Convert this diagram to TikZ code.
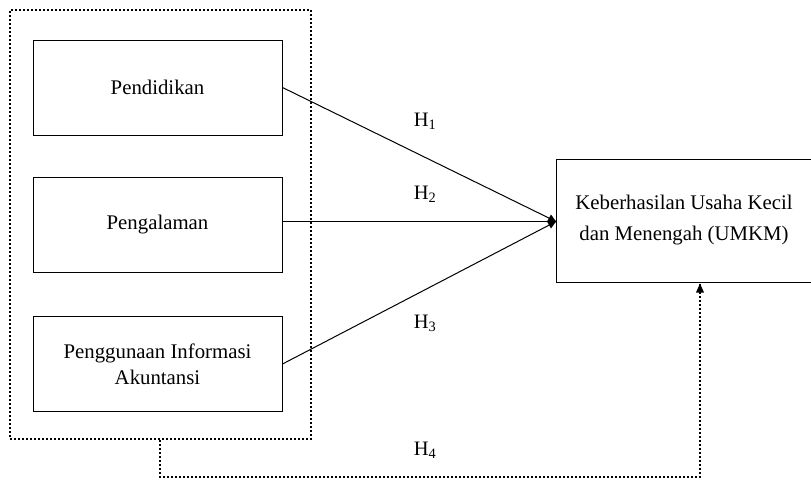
\documentclass[tikz,border=0pt]{standalone}
\usepackage{fontspec}
\setmainfont{Liberation Serif}
\usetikzlibrary{arrows.meta}
\begin{document}
\begin{tikzpicture}[x=1pt,y=-1pt,
  varbox/.style={draw, line width=1pt, minimum width=249pt, minimum height=95pt, inner sep=0pt, align=center, font=\fontsize{20.8}{26}\selectfont},
  lab/.style={font=\fontsize{20.5}{24}\selectfont, inner sep=0pt},
  dotline/.style={line width=2.6pt, dash pattern=on 2pt off 2pt},
  conn/.style={line width=1pt}]
\useasboundingbox (0,0) rectangle (811,480);
\node[varbox] (pend) at (157.5,87.5) {Pendidikan};
\node[varbox] (peng) at (157.5,225) {Pengalaman};
\node[varbox] (pia) at (157.5,364) {Penggunaan Informasi\\Akuntansi};
\node[draw, line width=1pt, minimum width=256pt, minimum height=123pt, inner sep=0pt, align=center, font=\fontsize{20.8}{31}\selectfont] (umkm) at (684,220.5) {Keberhasilan Usaha Kecil\\dan Menengah (UMKM)};
\coordinate (tip) at (556,221.5);
\node[draw, dotline, minimum width=301pt, minimum height=429pt, inner sep=0pt] (grp) at (160.5,224.5) {};
\draw[conn] (pend.east) -- (tip);
\draw[conn] (tip -| peng.east) -- (tip);
\draw[conn] (pia.east) -- (tip);
\fill (tip) -- ++(-5,-7) -- ++(-4,7) -- ++(4,7) -- cycle;
\coordinate (d1) at (160,477);
\coordinate (d2) at (700,477);
\draw[dotline] (grp.south -| d1) -- (d1) -- (d2) -- (umkm.south -| d2);
\fill (umkm.south -| d2) ++(0,1) -- ++(-4,9) -- ++(8,0) -- cycle;
\node[lab] (h1) at (425,121) {H\textsubscript{1}};
\node[lab] (h2) at (425,194) {H\textsubscript{2}};
\node[lab] (h3) at (425,323) {H\textsubscript{3}};
\node[lab] (h4) at (425,450) {H\textsubscript{4}};
\end{tikzpicture}
\end{document}
